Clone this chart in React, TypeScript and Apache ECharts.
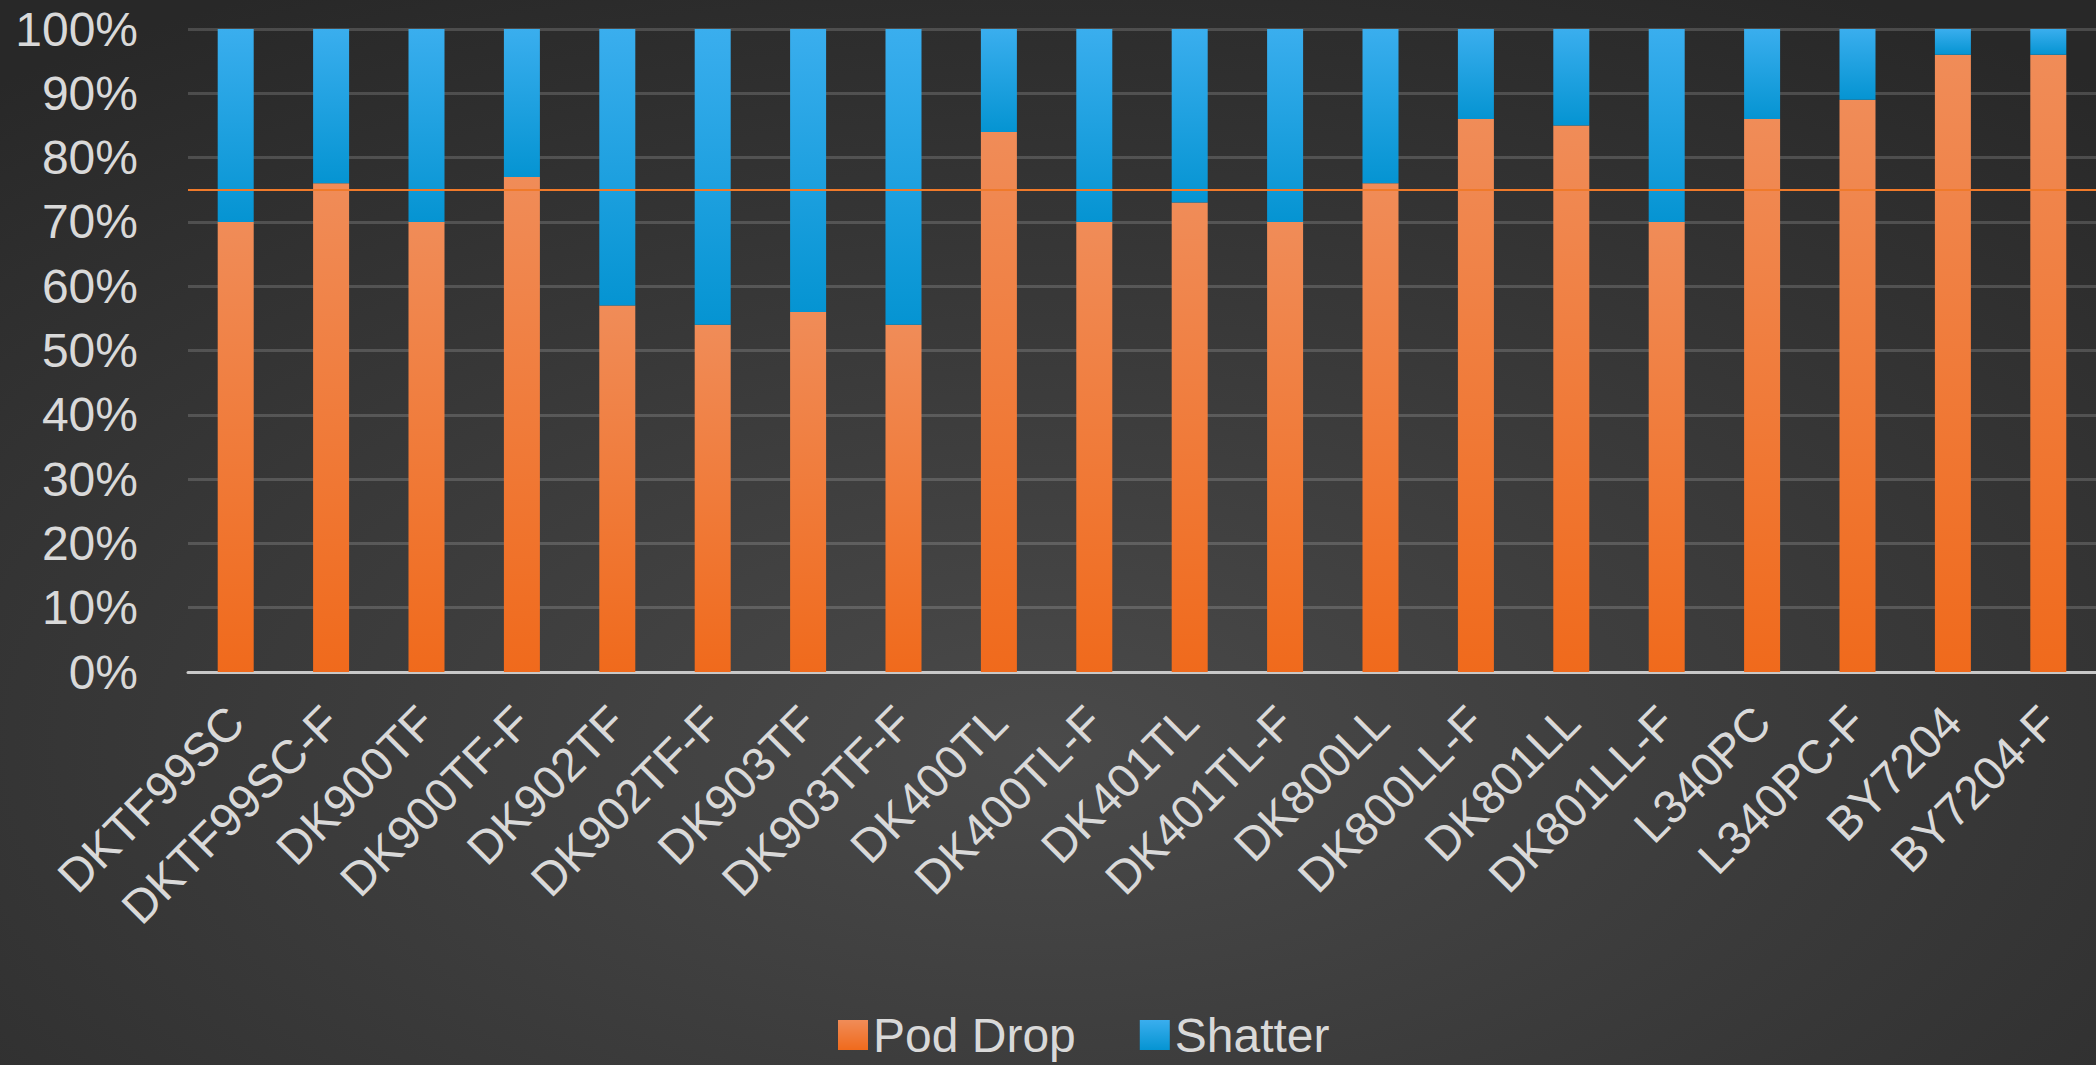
import React, { useEffect, useRef } from "react";
import * as echarts from "echarts";

const categories = [
  "DKTF99SC", "DKTF99SC-F", "DK900TF", "DK900TF-F", "DK902TF", "DK902TF-F",
  "DK903TF", "DK903TF-F", "DK400TL", "DK400TL-F", "DK401TL", "DK401TL-F",
  "DK800LL", "DK800LL-F", "DK801LL", "DK801LL-F", "L340PC", "L340PC-F",
  "BY7204", "BY7204-F",
];
const podDrop = [70, 76, 70, 77, 57, 54, 56, 54, 84, 70, 73, 70, 76, 86, 85, 70, 86, 89, 96, 96];
const shatter = [30, 24, 30, 23, 43, 46, 44, 46, 16, 30, 27, 30, 24, 14, 15, 30, 14, 11, 4, 4];
const threshold = 75;
const seriesNames = ["Pod Drop", "Shatter"];

const FONT = "'Liberation Sans', Arial, sans-serif";

export default function App() {
  const ref = useRef<HTMLDivElement>(null);
  useEffect(() => {
    document.body.style.margin = "0";
    const chart = echarts.init(ref.current!, null, { renderer: "svg" });
    const orange = new echarts.graphic.LinearGradient(0, 0, 0, 1, [
      { offset: 0, color: "#f08c58" },
      { offset: 1, color: "#f06a1c" },
    ]);
    const blue = new echarts.graphic.LinearGradient(0, 0, 0, 1, [
      { offset: 0, color: "#3aaeee" },
      { offset: 1, color: "#0594d2" },
    ]);
    chart.setOption({
      animation: false,
      backgroundColor: new echarts.graphic.RadialGradient(0.5, 0.7, 0.8, [
        { offset: 0, color: "#4a4a4a" },
        { offset: 1, color: "#282828" },
      ]),
      textStyle: { fontFamily: FONT },
      grid: { left: 188, top: 29, width: 1914, height: 643, containLabel: false },
      legend: {
        data: seriesNames,
        left: 833,
        top: 1006,
        itemWidth: 30,
        itemHeight: 30,
        itemGap: 64,
        textStyle: { color: "#d9d9d9", fontSize: 48, fontFamily: FONT },
        icon: "rect",
      },
      xAxis: {
        type: "category",
        data: categories,
        axisLine: { lineStyle: { color: "#c8c8c8", width: 3 } },
        axisTick: { show: false },
        axisLabel: {
          rotate: 45,
          interval: 0,
          margin: 42,
          color: "#d9d9d9",
          fontSize: 47,
          fontFamily: FONT,
        },
      },
      yAxis: {
        type: "value",
        min: 0,
        max: 100,
        interval: 10,
        axisLine: { show: false },
        axisTick: { show: false },
        axisLabel: {
          formatter: "{value}%",
          color: "#d9d9d9",
          fontSize: 48,
          margin: 50,
          fontFamily: FONT,
        },
        splitLine: { lineStyle: { color: "rgba(255,255,255,0.16)", width: 3 } },
      },
      series: [
        {
          name: seriesNames[0],
          type: "bar",
          stack: "total",
          barWidth: 36,
          data: podDrop,
          itemStyle: { color: orange },
          markLine: {
            silent: true,
            symbol: "none",
            label: { show: false },
            lineStyle: { color: "#f07a2a", width: 2, type: "solid" },
            data: [{ yAxis: threshold }],
          },
        },
        {
          name: seriesNames[1],
          type: "bar",
          stack: "total",
          barWidth: 36,
          data: shatter,
          itemStyle: { color: blue },
        },
      ],
    });
    return () => chart.dispose();
  }, []);
  return <div ref={ref} style={{ width: 2096, height: 1065 }} />;
}
